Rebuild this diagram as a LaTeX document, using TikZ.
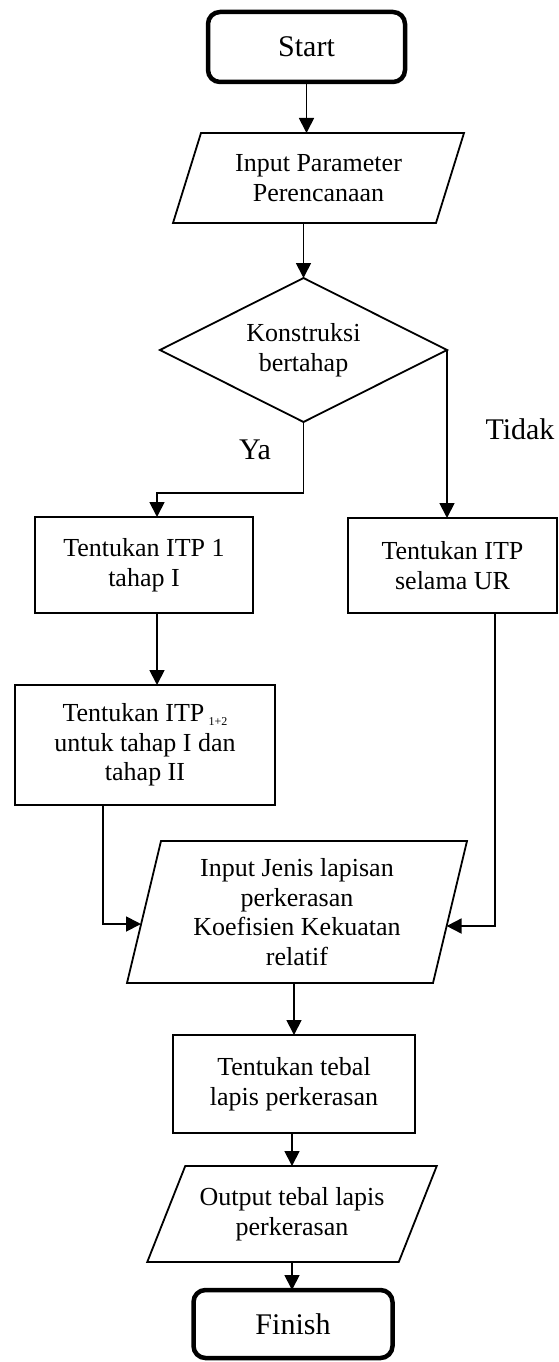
\documentclass[tikz,border=0pt]{standalone}
\usepackage{fontspec}
\setmainfont{Liberation Serif}
\usetikzlibrary{arrows.meta,calc}
\begin{document}
\begin{tikzpicture}[x=1pt,y=-1pt,
  ln/.style={line width=1.8pt},
  arr/.style={ln,-{Triangle[length=15pt,width=15pt]}},
  term/.style={draw,line width=4.5pt,rounded corners=12pt,inner sep=0pt,outer sep=0pt,font=\fontsize{30}{34}\selectfont},
  proc/.style={draw,ln,inner sep=0pt,outer sep=0pt,align=center,font=\fontsize{26}{29.5}\selectfont},
  io/.style={inner sep=0pt,outer sep=0pt,align=center,font=\fontsize{26}{29.5}\selectfont},
  lbl/.style={inner sep=0pt,font=\fontsize{30}{34}\selectfont}]
\useasboundingbox (0,0) rectangle (558,1362);

\node[term,minimum width=197pt,minimum height=70pt] (start) at (306.5,47) {Start};

\node[io,minimum width=263pt,minimum height=90pt] (p1) at (318.5,178) {Input Parameter\\Perencanaan};
\draw[ln] ([xshift=14pt]p1.north west) -- ([xshift=14pt]p1.north east) -- ([xshift=-14pt]p1.south east) -- ([xshift=-14pt]p1.south west) -- cycle;

\node[io,minimum width=287pt,minimum height=144pt] (d) at (303.5,350) {Konstruksi\\bertahap};
\draw[ln] (d.north) -- (d.east) -- (d.south) -- (d.west) -- cycle;

\node[lbl] (ya) at (255,450) {Ya};
\node[lbl] (tidak) at (520,429) {Tidak};

\node[proc,minimum width=218pt,minimum height=96pt] (b1) at (144,565) {Tentukan ITP 1\\tahap I};
\node[proc,minimum width=209pt,minimum height=95pt] (b1r) at (452.5,565.5) {Tentukan ITP\\selama UR};
\node[proc,minimum width=260pt,minimum height=120pt] (b2) at (145,745) {Tentukan ITP\,\raisebox{-4pt}{\fontsize{12}{12}\selectfont 1+2}\\untuk tahap I dan\\tahap II};

\node[io,minimum width=306pt,minimum height=142pt] (p2) at (297,912) {Input Jenis lapisan\\perkerasan\\Koefisien Kekuatan\\relatif};
\draw[ln] ([xshift=17pt]p2.north west) -- ([xshift=17pt]p2.north east) -- ([xshift=-17pt]p2.south east) -- ([xshift=-17pt]p2.south west) -- cycle;

\node[proc,minimum width=242pt,minimum height=98pt] (b3) at (294,1084) {Tentukan tebal\\lapis perkerasan};

\node[io,minimum width=251.5pt,minimum height=96pt] (out) at (292,1214) {Output tebal lapis\\perkerasan};
\draw[ln] ([xshift=19pt]out.north west) -- ([xshift=19pt]out.north east) -- ([xshift=-19pt]out.south east) -- ([xshift=-19pt]out.south west) -- cycle;

\node[term,minimum width=199pt,minimum height=68pt] (fin) at (293,1324) {Finish};

\coordinate (yaTurn) at (157,493);
\coordinate (leftTurn) at (103,924);
\coordinate (rightTurn) at (495,926);
\coordinate (p2in) at (141,924);
\coordinate (p2inR) at (446.6,926);

\draw[arr] (start.south) -- (start.south |- p1.north);
\draw[arr] (d.north |- p1.south) -- (d.north);
\draw[arr] (d.south) |- (yaTurn) -- (yaTurn |- b1.north);
\draw[arr] (d.east) -- (d.east |- b1r.north);
\draw[arr] (yaTurn |- b1.south) -- (yaTurn |- b2.north);
\draw[arr] (leftTurn |- b2.south) -- (leftTurn) -- (p2in);
\draw[arr] (rightTurn |- b1r.south) -- (rightTurn) -- (p2inR);
\draw[arr] (b3.north |- p2.south) -- (b3.north);
\draw[arr] (out.north |- b3.south) -- (out.north);
\draw[arr] (out.south) -- (out.south |- fin.north);
\end{tikzpicture}
\end{document}
